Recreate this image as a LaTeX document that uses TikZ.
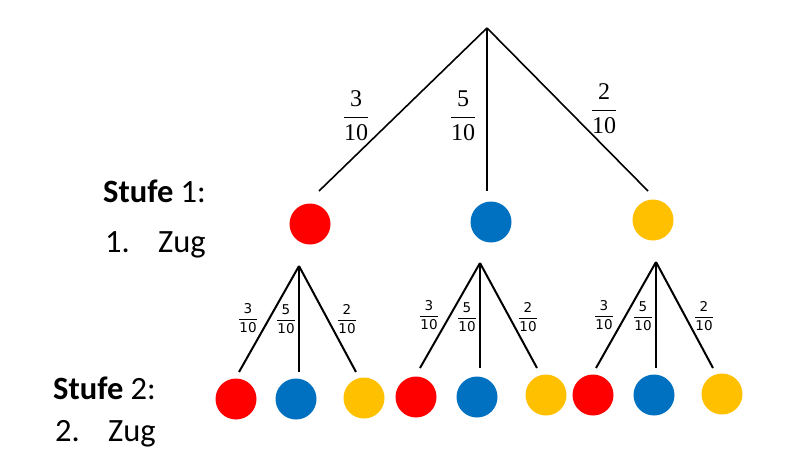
\documentclass[tikz,border=0pt]{standalone}
\usepackage{fontspec}
\usepackage{amsmath}
\setmainfont{Carlito}
\newfontfamily\bruchfont{Liberation Serif}
\newfontfamily\kleinfont{DejaVu Sans}
\definecolor{kugelrot}{HTML}{FF0000}
\definecolor{kugelblau}{HTML}{0070C0}
\definecolor{kugelgelb}{HTML}{FFC000}
\newcommand{\gross}[2]{{\fontsize{24}{28}\selectfont\bruchfont$\genfrac{}{}{1.7pt}{0}{\mbox{#1}}{\mbox{#2}}$}}
\newcommand{\klein}[2]{{\fontsize{13.5}{16}\selectfont\kleinfont$\genfrac{}{}{1pt}{0}{\mbox{#1}}{\mbox{#2}}$}}

\begin{document}
\begin{tikzpicture}[x=1pt, y=-1pt,
    ast/.style = {line width=1.6pt},
    zweig/.style = {line width=2pt},
    kugel/.style = {circle, minimum size=41pt, inner sep=0pt},
    rot/.style = {kugel, fill=kugelrot},
    blau/.style = {kugel, fill=kugelblau},
    gelb/.style = {kugel, fill=kugelgelb},
    stufe/.style = {anchor=base west, inner sep=0pt, font=\fontsize{32.5}{38}\selectfont}
    ]
    \useasboundingbox (0,0) rectangle (786,459);

    % Stufe 1
    \coordinate (wurzel) at (487,28);
    \coordinate (endeR) at (319,191);
    \coordinate (endeB) at (487,191);
    \coordinate (endeG) at (648,191);
    \node[rot] (rot) at (310,224) {};
    \node[blau] (blau) at (491,222) {};
    \node[gelb] (gelb) at (653,220) {};
    \draw[ast] (wurzel) -- (endeR);
    \draw[ast] (wurzel) -- (endeB);
    \draw[ast] (wurzel) -- (endeG);
    \node (pR) at (356,116) {\gross{3}{10}};
    \node (pB) at (463,116) {\gross{5}{10}};
    \node (pG) at (604,109) {\gross{2}{10}};

    % Stufe 2 nach rot
    \coordinate (wurzelR) at (299,266);
    \coordinate (endeRR) at (239,372);
    \coordinate (endeRB) at (299,372);
    \coordinate (endeRG) at (356,372);
    \node[rot] (rotR) at (236,399) {};
    \node[blau] (blauR) at (296,399) {};
    \node[gelb] (gelbR) at (364,398) {};
    \draw[zweig] (wurzelR) -- (endeRR);
    \draw[zweig] (wurzelR) -- (endeRB);
    \draw[zweig] (wurzelR) -- (endeRG);
    \node (pRR) at (248,318) {\klein{3}{10}};
    \node (pRB) at (286,319) {\klein{5}{10}};
    \node (pRG) at (347,319) {\klein{2}{10}};

    % Stufe 2 nach blau
    \coordinate (wurzelB) at (480,263);
    \coordinate (endeBR) at (420,368);
    \coordinate (endeBB) at (480,368);
    \coordinate (endeBG) at (537,368);
    \node[rot] (rotB) at (416,397) {};
    \node[blau] (blauB) at (477,397) {};
    \node[gelb] (gelbB) at (546,395) {};
    \draw[zweig] (wurzelB) -- (endeBR);
    \draw[zweig] (wurzelB) -- (endeBB);
    \draw[zweig] (wurzelB) -- (endeBG);
    \node (pBR) at (429,315) {\klein{3}{10}};
    \node (pBB) at (467,317) {\klein{5}{10}};
    \node (pBG) at (528,317) {\klein{2}{10}};

    % Stufe 2 nach gelb
    \coordinate (wurzelG) at (656,262);
    \coordinate (endeGR) at (596,368);
    \coordinate (endeGB) at (656,368);
    \coordinate (endeGG) at (713,368);
    \node[rot] (rotG) at (593,395) {};
    \node[blau] (blauG) at (654,395) {};
    \node[gelb] (gelbG) at (722,394) {};
    \draw[zweig] (wurzelG) -- (endeGR);
    \draw[zweig] (wurzelG) -- (endeGB);
    \draw[zweig] (wurzelG) -- (endeGG);
    \node (pGR) at (604,315) {\klein{3}{10}};
    \node (pGB) at (643,316) {\klein{5}{10}};
    \node (pGG) at (704,316) {\klein{2}{10}};

    % Beschriftung
    \node[stufe] (stufeA) at (103,202) {\textbf{Stufe} 1:};
    \node[stufe] (zugA) at (105,252) {\makebox[53pt][l]{1.}Zug};
    \node[stufe] (stufeB) at (53,399) {\textbf{Stufe} 2:};
    \node[stufe] (zugB) at (55,441) {\makebox[53pt][l]{2.}Zug};
\end{tikzpicture}
\end{document}
